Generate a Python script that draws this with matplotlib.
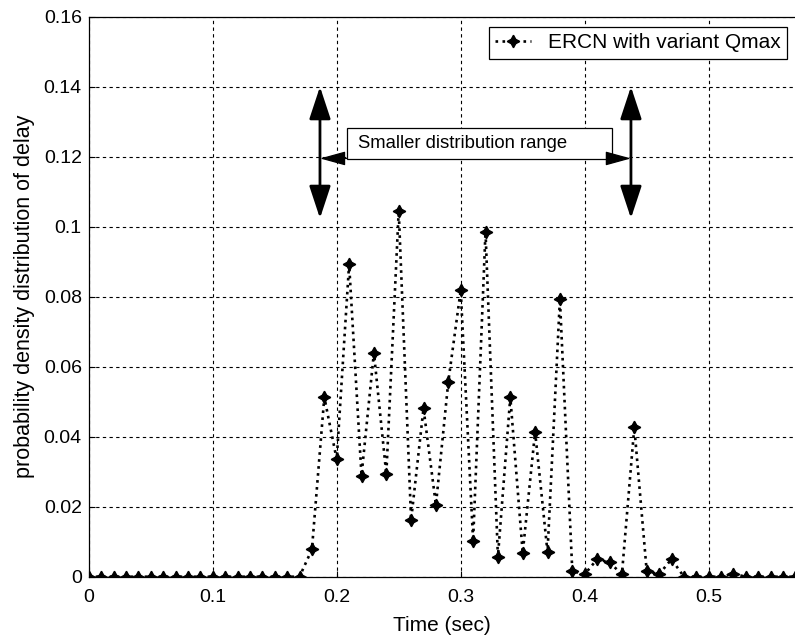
import numpy as np
import matplotlib
matplotlib.use('Agg')
import matplotlib.pyplot as plt
from matplotlib.patches import Rectangle
from matplotlib.ticker import FuncFormatter

plt.rcParams['font.family'] = ['Liberation Sans', 'DejaVu Sans']

# delay samples every 10 ms
time = np.arange(58) / 100.0
pdf = [0, 0, 0, 0, 0, 0, 0, 0, 0, 0, 0, 0, 0, 0, 0, 0, 0, 0,
       0.0078, 0.0513, 0.0335, 0.0893, 0.0289, 0.0640, 0.0293, 0.1046,
       0.0162, 0.0481, 0.0205, 0.0557, 0.0819, 0.0102, 0.0986, 0.0057,
       0.0513, 0.0068, 0.0414, 0.0070, 0.0793, 0.0016, 0.0007, 0.0050,
       0.0041, 0.0007, 0.0427, 0.0016, 0.0007, 0.0050, 0, 0, 0, 0,
       0.0008, 0, 0, 0, 0, 0]
series_label = 'ERCN with variant Qmax'
range_note = 'Smaller distribution range'
range_lo, range_hi = 0.1865, 0.4373

xticks = [0, 0.1, 0.2, 0.3, 0.4, 0.5]
yticks = [0, 0.02, 0.04, 0.06, 0.08, 0.1, 0.12, 0.14, 0.16]

fig = plt.figure(figsize=(7.95, 6.4), dpi=100)
ax = fig.add_axes([0.1116, 0.0989, 0.8884, 0.8750])

ax.plot(time, pdf, color='black', linestyle=':', linewidth=1.9,
        marker=(4, 1, 0), markersize=9, label=series_label)

ax.set_xlim(0, 0.5696)
ax.set_ylim(0, 0.16)
ax.set_xticks(xticks)
ax.set_yticks(yticks)
fmt = FuncFormatter(lambda v, p: '%g' % v)
ax.xaxis.set_major_formatter(fmt)
ax.yaxis.set_major_formatter(fmt)
ax.tick_params(direction='in', length=4, width=0.8, labelsize=14,
               colors='black')
ax.tick_params(axis='x', pad=9)
ax.tick_params(axis='y', pad=5)
ax.grid(True, color='black', linestyle=(0, (3, 3)), linewidth=0.8)
for side in ['left', 'top', 'bottom']:
    ax.spines[side].set_linewidth(0.9)
ax.spines['right'].set_visible(False)

ax.set_xlabel('Time (sec)', fontsize=15, labelpad=7)
ax.set_ylabel('probability density distribution of delay', fontsize=15.5,
              labelpad=6)

leg = ax.legend(loc='upper right', bbox_to_anchor=(0.9887, 0.9816),
                fontsize=15, frameon=True, fancybox=False, framealpha=1,
                edgecolor='black', borderpad=0.3, handlelength=1.75,
                handletextpad=0.8, borderaxespad=0)
leg.get_frame().set_linewidth(0.9)

# vertical double arrows marking the range
big = dict(arrowstyle='<|-|>,head_length=1.0,head_width=0.33',
           mutation_scale=20, lw=2, color='black', shrinkA=0, shrinkB=0)
for xr in (range_lo, range_hi):
    ax.annotate('', xy=(xr, 0.14), xytext=(xr, 0.1024), arrowprops=big)

# note box with small arrows pointing out to both sides
box_l, box_r, box_b, box_t = 0.2081, 0.4218, 0.1193, 0.1281
ax.add_patch(Rectangle((box_l, box_b), box_r - box_l, box_t - box_b,
                       facecolor='white', edgecolor='black', linewidth=0.9,
                       zorder=5))
ax.text(box_l + 0.0093, (box_b + box_t) / 2, range_note, fontsize=13.3,
        va='center', ha='left', zorder=6)
small = dict(arrowstyle='-|>,head_length=0.8,head_width=0.22',
             mutation_scale=20, lw=0.9, color='black', shrinkA=0, shrinkB=0)
ax.annotate('', xy=(range_lo, 0.1195), xytext=(box_l, 0.1195),
            arrowprops=small, zorder=6)
ax.annotate('', xy=(range_hi, 0.1195), xytext=(box_r, 0.1195),
            arrowprops=small, zorder=6)

fig.savefig('out.png', dpi=100)
